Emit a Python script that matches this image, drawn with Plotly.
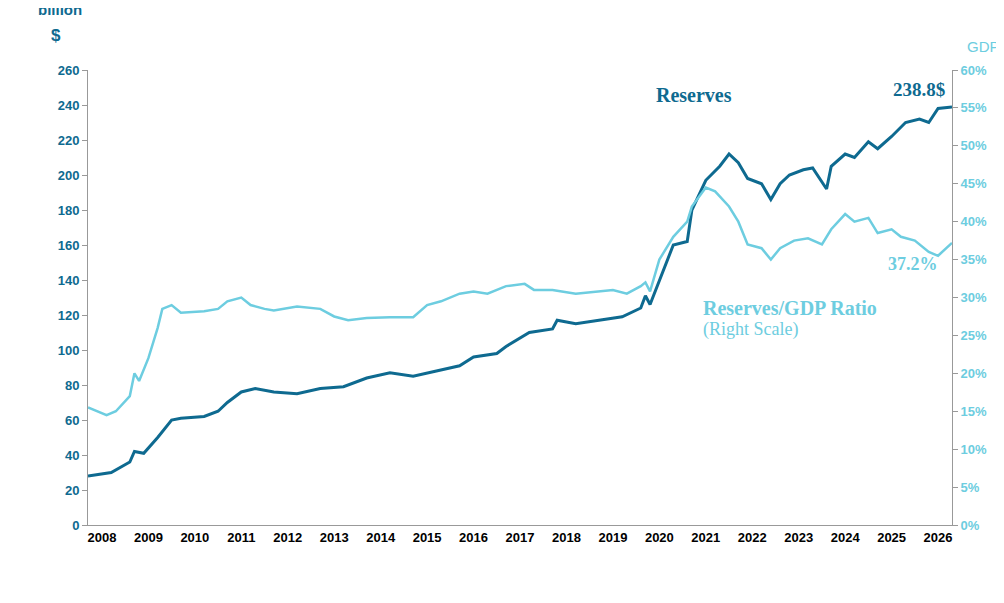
import plotly.graph_objects as go

res_x = [2008.0,2008.5,2008.9,2009.0,2009.2,2009.5,2009.8,2010.0,2010.5,2010.8,2011.0,2011.3,2011.6,2012.0,2012.5,2013.0,2013.5,2014.0,2014.5,2015.0,2015.5,2016.0,2016.3,2016.8,2017.0,2017.5,2018.0,2018.1,2018.5,2019.0,2019.5,2019.9,2020.0,2020.1,2020.3,2020.6,2020.9,2021.0,2021.3,2021.6,2021.8,2022.0,2022.2,2022.5,2022.7,2022.9,2023.1,2023.4,2023.6,2023.9,2024.0,2024.3,2024.5,2024.8,2025.0,2025.3,2025.6,2025.9,2026.1,2026.3,2026.6]
res_y = [28,30,36,42,41,50,60,61,62,65,70,76,78,76,75,78,79,84,87,85,88,91,96,98,102,110,112,117,115,117,119,124,131,126,140,160,162,180,197,205,212,207,198,195,186,195,200,203,204,192,205,212,210,219,215,222,230,232,230,238,238.8]

gdp_x = [2008.0,2008.4,2008.6,2008.9,2009.0,2009.1,2009.3,2009.5,2009.6,2009.8,2010.0,2010.5,2010.8,2011.0,2011.3,2011.5,2011.8,2012.0,2012.5,2013.0,2013.3,2013.6,2014.0,2014.5,2015.0,2015.3,2015.6,2016.0,2016.3,2016.6,2017.0,2017.4,2017.6,2018.0,2018.5,2019.0,2019.3,2019.6,2019.9,2020.0,2020.1,2020.3,2020.6,2020.9,2021.0,2021.3,2021.5,2021.8,2022.0,2022.2,2022.5,2022.7,2022.9,2023.2,2023.5,2023.8,2024.0,2024.3,2024.5,2024.8,2025.0,2025.3,2025.5,2025.8,2026.1,2026.3,2026.6]
gdp_y = [15.5,14.5,15,17,20,19,22,26,28.5,29,28,28.2,28.5,29.5,30,29,28.5,28.3,28.8,28.5,27.5,27,27.3,27.4,27.4,29,29.5,30.5,30.8,30.5,31.5,31.8,31,31,30.5,30.8,31,30.5,31.5,32,30.8,35,38,40,42,44.5,44,42,40,37,36.5,35,36.5,37.5,37.8,37,39,41,40,40.5,38.5,39,38,37.5,36,35.5,37.2]

years = list(range(2008, 2027))
dark = "#0E6A90"
light = "#6DCDE0"

fig = go.Figure()
fig.add_trace(go.Scatter(x=gdp_x, y=gdp_y, yaxis="y2", mode="lines", line=dict(color=light, width=2.5)))
fig.add_trace(go.Scatter(x=res_x, y=res_y, mode="lines", line=dict(color=dark, width=3)))

fig.update_layout(
    width=1004, height=603, showlegend=False, plot_bgcolor="white", paper_bgcolor="white",
    margin=dict(l=80, r=60, t=62, b=86),
    font=dict(family="Liberation Sans", size=13, color=dark),
    xaxis=dict(range=[2008.0, 2026.6], tickvals=[y + 0.3 for y in years], ticktext=[str(y) for y in years],
               showgrid=False, showline=True, linecolor="#999", ticks="",
               tickfont=dict(size=13, color="black", family="Liberation Sans", weight="bold")),
    yaxis=dict(range=[0, 260], dtick=20, showgrid=False, showline=True, linecolor="#999", ticks="outside",
               tickcolor="#999", tickfont=dict(size=13, color=dark, family="Liberation Sans", weight="bold")),
    yaxis2=dict(range=[0, 60], dtick=5, overlaying="y", side="right", ticksuffix="%", showgrid=False,
                showline=True, linecolor="#999", ticks="outside", tickcolor="#999",
                tickfont=dict(size=13, color=light, family="Liberation Sans", weight="bold")),
    annotations=[
        dict(xref="paper", yref="paper", x=-0.06, y=1.155, text="<b>billion</b>", showarrow=False, xanchor="left", font=dict(size=15, color=dark)),
        dict(xref="paper", yref="paper", x=-0.045, y=1.10, text="<b>$</b>", showarrow=False, xanchor="left", font=dict(size=17, color=dark)),
        dict(xref="paper", yref="paper", x=1.036, y=1.075, text="GDP", showarrow=False, xanchor="center", font=dict(size=15, color=light)),
        dict(x=2021.05, y=246, text="<b>Reserves</b>", showarrow=False, xanchor="center", font=dict(family="Liberation Serif", size=20, color=dark)),
        dict(x=2026.5, y=249, text="<b>238.8$</b>", showarrow=False, xanchor="right", font=dict(family="Liberation Serif", size=19, color=dark)),
        dict(x=2026.35, y=34.4, yref="y2", text="<b>37.2%</b>", showarrow=False, xanchor="right", font=dict(family="Liberation Serif", size=18, color=light)),
        dict(x=2021.2, y=124, text="<b>Reserves/GDP Ratio</b>", showarrow=False, xanchor="left", font=dict(family="Liberation Serif", size=20, color=light)),
        dict(x=2021.2, y=112, text="(Right Scale)", showarrow=False, xanchor="left", font=dict(family="Liberation Serif", size=18, color=light)),
    ],
)
fig.write_html("out.html")
